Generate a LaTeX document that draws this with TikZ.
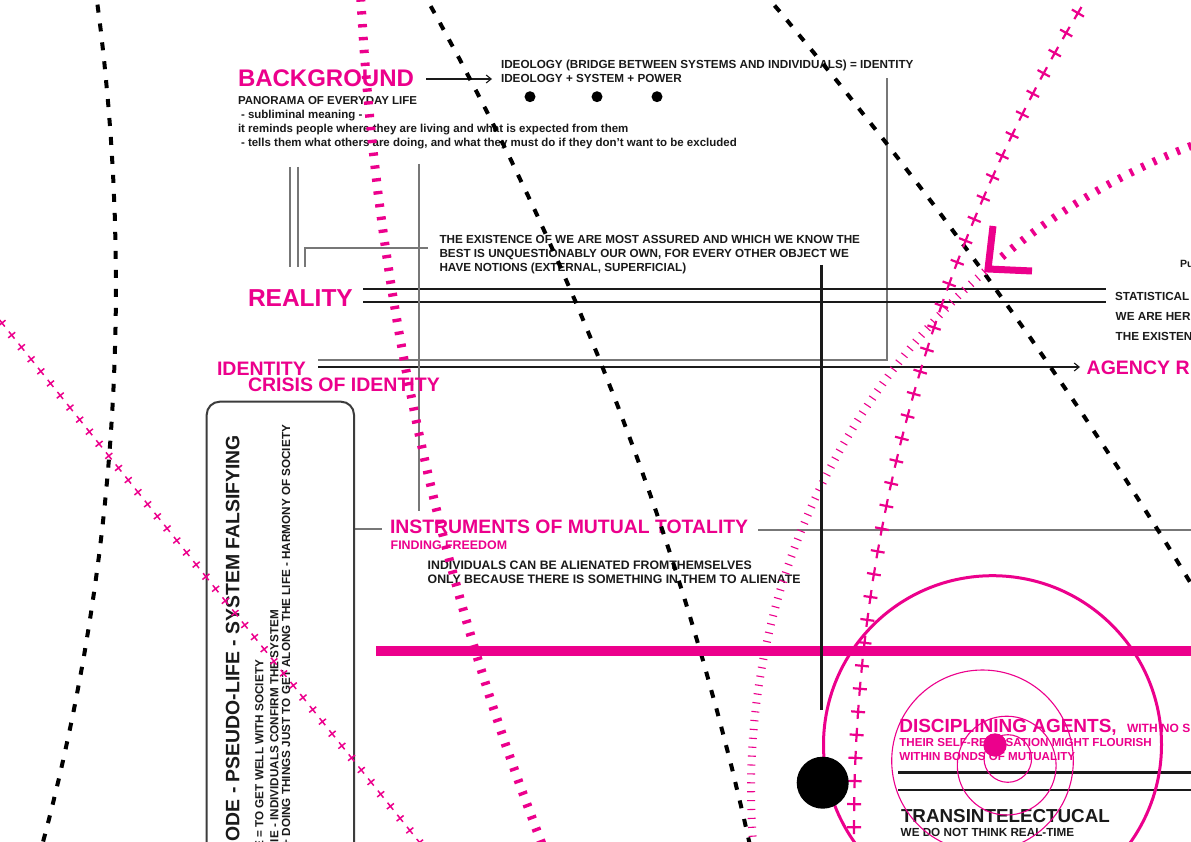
\documentclass[tikz,border=0pt]{standalone}
\usepackage{fontspec}
\setmainfont{Liberation Sans}
\usetikzlibrary{decorations.markings,arrows.meta}
\definecolor{mag}{HTML}{EC008C}
\definecolor{greyline}{HTML}{777777}
\definecolor{ink}{HTML}{1A1A1A}
\newcommand{\myfs}[1]{\bfseries\fontsize{#1}{#1}\selectfont}
\tikzset{
  lbl/.style={inner sep=0pt, outer sep=0pt, anchor=base west, text=ink},
  mlbl/.style={lbl, text=mag},
  gline/.style={draw=greyline, line width=1.6pt},
  kline/.style={draw=ink, line width=1.1pt},
  arr/.style={kline, -{Straight Barb[length=5pt,width=8pt]}},
  bdash/.style={draw=black, line width=4pt, dash pattern=on 8pt off 11pt},
  mticks/.style={draw=mag, line width=9pt, dash pattern=on 3.4pt off 9.5pt},
  mticksB/.style={draw=mag, line width=8pt, dash pattern=on 3.4pt off 9.4pt},
  mthin/.style={draw=mag, line width=8pt, dash pattern=on 1.1pt off 7.8pt},
  pluspath/.style={decoration={markings, mark=between positions 0 and 1 step 23.1pt with {\draw[mag, line width=2.2pt] (-7,0)--(7,0) (0,-7)--(0,7);}}, postaction=decorate},
  xpath/.style={decoration={markings, mark=between positions 0 and 1 step 15.5pt with {\draw[mag, line width=1.5pt] (-4.5,0)--(4.5,0) (0,-4.5)--(0,4.5);}}, postaction=decorate},
}
\begin{document}
\begin{tikzpicture}[x=1pt,y=-1pt]
\useasboundingbox (0,0) rectangle (1191,842);
\fill[white] (0,0) rectangle (1191,842);
\clip (0,0) rectangle (1191,842);

% ---------- connector lines ----------
\coordinate (bgA) at (426,79);
\coordinate (bgB) at (492,79);
\draw[arr] (bgA) -- (bgB);
\coordinate (idL) at (318,360);
\coordinate (idC) at (887,360);
\coordinate (idT) at (887,78);
\draw[gline] (idL) -- (idC) -- (idT);
\coordinate (agL) at (318,367);
\coordinate (agR) at (1080,367);
\draw[arr] (agL) -- (agR);
\coordinate (r1L) at (363,289); \coordinate (r1R) at (1106,289);
\coordinate (r2L) at (363,302); \coordinate (r2R) at (1106,302);
\draw[kline] (r1L) -- (r1R);
\draw[kline] (r2L) -- (r2R);
\coordinate (vgT) at (419,164); \coordinate (vgB) at (419,511);
\draw[gline] (vgT) -- (vgB);
\coordinate (d1T) at (290,167); \coordinate (d1B) at (290,267);
\coordinate (d2T) at (298,167); \coordinate (d2B) at (298,267);
\draw[gline] (d1T) -- (d1B);
\draw[gline] (d2T) -- (d2B);
\coordinate (brB) at (305,267); \coordinate (brC) at (305,248); \coordinate (brR) at (428,248);
\draw[gline] (brB) -- (brC) -- (brR);
\coordinate (bxR) at (354,529); \coordinate (inL) at (382,529);
\draw[gline] (bxR) -- (inL);
\coordinate (inR) at (758,530); \coordinate (edR) at (1191,530);
\draw[gline, line width=1.3pt] (inR) -- (edR);
\coordinate (h1L) at (898,772.3); \coordinate (h1R) at (1191,772.3);
\coordinate (h2L) at (898,790); \coordinate (h2R) at (1191,790);
\draw[ink, line width=2.7pt] (h1L) -- (h1R);
\draw[ink, line width=2.7pt] (h2L) -- (h2R);

% ---------- rounded box ----------
\draw[draw=ink!85, line width=2pt, rounded corners=13pt] (206.7,880) -- (206.7,401.7) -- (354,401.7) -- (354,880);

% ---------- texts ----------
\node[mlbl, font=\myfs{24}] (bg) at (238,87) {BACKGROUND};
\node[lbl, font=\myfs{11.7}] (ideo1) at (501,68.5) {IDEOLOGY (BRIDGE BETWEEN SYSTEMS AND INDIVIDUALS) = IDENTITY};
\node[lbl, font=\myfs{11.7}] (ideo2) at (501,83) {IDEOLOGY + SYSTEM + POWER};
\node[lbl, font=\myfs{11.5}] (pan) at (238,105) {PANORAMA OF EVERYDAY LIFE};
\node[lbl, font=\myfs{11.5}] (sub) at (241,119) {- subliminal meaning -};
\node[lbl, font=\myfs{11.5}] (rem) at (238,133) {it reminds people where they are living and what is expected from them};
\node[lbl, font=\myfs{11.5}] (tel) at (241,147) {- tells them what others are doing, and what they must do if they don’t want to be excluded};

\node[lbl, font=\myfs{11.7}] (ex1) at (439.5,243.5) {THE EXISTENCE OF WE ARE MOST ASSURED AND WHICH WE KNOW THE};
\node[lbl, font=\myfs{11.7}] (ex2) at (439.5,257.5) {BEST IS UNQUESTIONABLY OUR OWN, FOR EVERY OTHER OBJECT WE};
\node[lbl, font=\myfs{11.7}] (ex3) at (439.5,271.5) {HAVE NOTIONS (EXTERNAL, SUPERFICIAL)};

\node[mlbl, font=\myfs{24.5}] (reality) at (248,306) {REALITY};
\node[mlbl, font=\myfs{19.5}] (identity) at (217,375) {IDENTITY};
\node[mlbl, font=\myfs{19.5}] (crisis) at (248,391) {CRISIS OF IDENTITY};

\node[mlbl, font=\myfs{19.4}] (instr) at (390,533.5) {INSTRUMENTS OF MUTUAL TOTALITY};
\node[mlbl, font=\myfs{12.4}] (find) at (390.7,549.5) {FINDING FREEDOM};
\node[lbl, font=\myfs{12.3}] (ind1) at (427.7,569) {INDIVIDUALS CAN BE ALIENATED FROMTHEMSELVES};
\node[lbl, font=\myfs{12.3}] (ind2) at (427.7,583.3) {ONLY BECAUSE THERE IS SOMETHING IN THEM TO ALIENATE};

\node[lbl, font=\myfs{10.5}] (pu) at (1180,267.5) {Pu};
\node[lbl, font=\myfs{11.7}] (stat) at (1115,301) {STATISTICAL};
\node[lbl, font=\myfs{11.7}] (here) at (1115.7,320) {WE ARE HER};
\node[lbl, font=\myfs{11.7}] (exn) at (1115.7,340) {THE EXISTEN};
\node[mlbl, font=\myfs{19.5}] (agency) at (1086.7,374) {AGENCY R};

\node[mlbl, font=\myfs{19}] (disc) at (899.3,732.7) {DISCIPLINING AGENTS,};
\node[mlbl, font=\myfs{12}] (withno) at (1127,732.7) {WITH NO SI};
\node[mlbl, font=\myfs{11.6}] (their) at (899.3,746.7) {THEIR SELF-REALISATION MIGHT FLOURISH};
\node[mlbl, font=\myfs{11.6}] (within) at (899.3,760.7) {WITHIN BONDS OF MUTUALITY};
\node[lbl, font=\myfs{18.8}] (trans) at (901,822.3) {TRANSINTELECTUCAL};
\node[lbl, font=\myfs{11.7}] (wedo) at (900.7,836) {WE DO NOT THINK REAL-TIME};

\node[lbl, rotate=90, anchor=base east, font=\myfs{19.4}] (pseudo) at (239.3,435) {ODE - PSEUDO-LIFE - SYSTEM FALSIFYING};
\node[lbl, rotate=90, anchor=base east, font=\myfs{11.7}] (well) at (263.3,660) {E = TO GET WELL WITH SOCIETY};
\node[lbl, rotate=90, anchor=base east, font=\myfs{11.7}] (conf) at (278.3,610) {IE - INDIVIDUALS CONFIRM THE SYSTEM};
\node[lbl, rotate=90, anchor=base east, font=\myfs{11.7}] (doing) at (290,425) {+ DOING THINGS JUST TO GET ALONG THE LIFE - HARMONY OF SOCIETY};

% ---------- three dots ----------
\fill[black] (530,96.7) circle[radius=5.5pt];
\fill[black] (597,96.7) circle[radius=5.5pt];
\fill[black] (657,96.7) circle[radius=5.5pt];

% ---------- decorative dashed curves ----------
\draw[bdash] plot[domain=-8:15.5, samples=60] ({-2041+2157*cos(\x)}, {286+2157*sin(\x)});
\draw[bdash] plot[domain=-29.5:-12.2, samples=60] ({-2281+3105*cos(\x)}, {1518.5+3105*sin(\x)});
\draw[bdash] plot[domain=-40.4:-30.8, samples=60] ({-2778+4649*cos(\x)}, {3004+4649*sin(\x)});

\draw[mticks] plot[domain=177:158.5, samples=60] ({3095+2738*cos(\x)}, {-145+2738*sin(\x)});
\draw[mticksB] plot[domain=252:230.4, samples=40] ({1441+690*cos(\x)}, {789+690*sin(\x)});
\draw[mthin] plot[domain=228.6:174, samples=80] ({1441+690*cos(\x)}, {789+690*sin(\x)});

\path[pluspath] plot[domain=210.86:179, samples=80] ({2435+1581*cos(\x)}, {824+1581*sin(\x)});
\path[xpath] (2,323) -- (428,853);

% L mark
\draw[mag, line width=7pt] (993,226) -- (988,269) -- (1032,271);

% ---------- bar and vertical ----------
\draw[mag, line width=9.5pt] (376,651) -- (1191,651);
\coordinate (vkT) at (821,265); \coordinate (vkB) at (821,710);
\draw[ink, line width=3pt] (vkT) -- (vkB);

% ---------- circles ----------
\draw[mag, line width=3pt] (992.5,744.7) circle[radius=169pt];
\draw[mag, line width=1.1pt] (982.5,760.8) circle[radius=90.8pt];
\draw[mag, line width=1.1pt] (1006.7,765.6) circle[radius=49.4pt];
\draw[mag, line width=1.1pt] (1007.8,758.5) circle[radius=23.8pt];
\fill[mag] (995,745) circle[radius=11.7pt];
\fill[black] (822.7,782.7) circle[radius=26pt];
\end{tikzpicture}
\end{document}
